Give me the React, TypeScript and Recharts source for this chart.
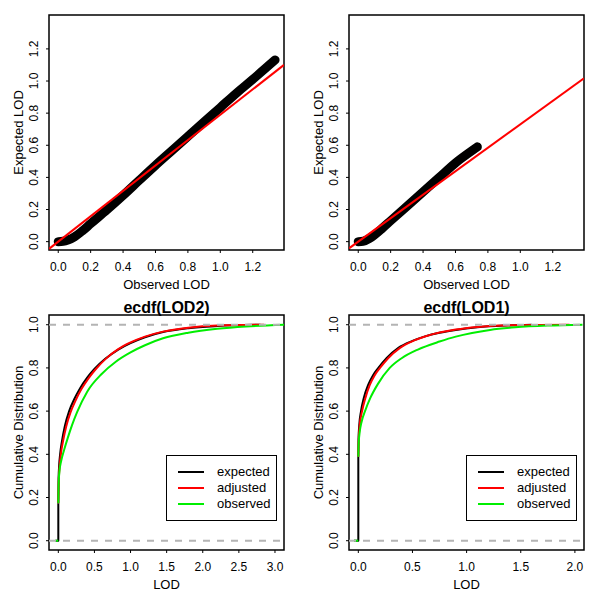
import React from 'react';
import { ComposedChart, Line, XAxis, YAxis, ReferenceLine, ReferenceArea, Legend, Label } from 'recharts';

type Pt = [number, number];

// ---------- Q-Q panels (Observed vs Expected LOD) ----------
const qqTicks = [0, 0.2, 0.4, 0.6, 0.8, 1.0, 1.2];

const lod2QQ: Pt[] = [
  [0, 0], [0.03, 0.002], [0.06, 0.01], [0.1, 0.03], [0.15, 0.068], [0.2, 0.112],
  [0.3, 0.198], [0.4, 0.288], [0.5, 0.382], [0.6, 0.475], [0.7, 0.565], [0.8, 0.655],
  [0.9, 0.745], [1.0, 0.835], [1.1, 0.925], [1.2, 1.01], [1.338, 1.131],
];
const lod2Slope = 0.79;

const lod1QQ: Pt[] = [
  [0, 0], [0.03, 0.002], [0.07, 0.02], [0.1, 0.042], [0.15, 0.085], [0.2, 0.13],
  [0.3, 0.22], [0.4, 0.31], [0.5, 0.4], [0.6, 0.49], [0.7, 0.565], [0.735, 0.59],
];
const lod1Slope = 0.73;

// ---------- ECDF panels ----------
const cdfTicks = [0, 0.2, 0.4, 0.6, 0.8, 1.0];
const lod2Ticks = [0, 0.5, 1.0, 1.5, 2.0, 2.5, 3.0];
const lod1Ticks = [0, 0.5, 1.0, 1.5, 2.0];

// point mass at LOD = 0 (height of the jump) and left end of the y=0 segment
const lod2Jump = 0.173;
const lod1Jump = 0.389;
const ecdfLeft = -0.04;

const lod2Expected: Pt[] = [
  [0, 0.173], [0.004, 0.29], [0.012, 0.35], [0.025, 0.4], [0.05, 0.46], [0.09, 0.53],
  [0.15, 0.6], [0.22, 0.655], [0.3, 0.705], [0.4, 0.755], [0.5, 0.795], [0.65, 0.842],
  [0.83, 0.885], [1.0, 0.915], [1.2, 0.942], [1.45, 0.966], [1.8, 0.984], [2.2, 0.994], [2.8, 1.0],
];
const lod2Adjusted: Pt[] = [
  [0, 0.173], [0.005, 0.27], [0.015, 0.33], [0.035, 0.4], [0.065, 0.46], [0.11, 0.53],
  [0.17, 0.595], [0.24, 0.65], [0.32, 0.702], [0.42, 0.753], [0.52, 0.795], [0.66, 0.843],
  [0.83, 0.887], [1.0, 0.918], [1.2, 0.945], [1.45, 0.968], [1.8, 0.986], [2.2, 0.996], [2.85, 1.0],
];
const lod2Observed: Pt[] = [
  [0, 0.173], [0.004, 0.26], [0.015, 0.32], [0.04, 0.37], [0.08, 0.42], [0.13, 0.475],
  [0.19, 0.535], [0.26, 0.595], [0.4, 0.69], [0.6, 0.772], [0.8, 0.83], [1.0, 0.872],
  [1.2, 0.905], [1.45, 0.937], [1.8, 0.963], [2.2, 0.981], [2.6, 0.992], [3.125, 1.0],
];

const lod1Expected: Pt[] = [
  [0, 0.389], [0.002, 0.47], [0.008, 0.53], [0.025, 0.6], [0.05, 0.66], [0.09, 0.72],
  [0.135, 0.765], [0.185, 0.8], [0.26, 0.845], [0.37, 0.893], [0.5, 0.925], [0.616, 0.946],
  [0.75, 0.963], [0.9, 0.976], [1.1, 0.988], [1.35, 0.996], [1.6, 1.0],
];
const lod1Adjusted: Pt[] = [
  [0, 0.389], [0.003, 0.46], [0.012, 0.53], [0.035, 0.6], [0.065, 0.66], [0.105, 0.72],
  [0.15, 0.765], [0.2, 0.8], [0.275, 0.845], [0.385, 0.893], [0.51, 0.926], [0.63, 0.948],
  [0.76, 0.965], [0.9, 0.978], [1.1, 0.99], [1.4, 0.998], [1.95, 1.0],
];
const lod1Observed: Pt[] = [
  [0, 0.389], [0.003, 0.45], [0.012, 0.5], [0.03, 0.55], [0.062, 0.6], [0.11, 0.66],
  [0.18, 0.725], [0.29, 0.8], [0.4, 0.845], [0.55, 0.885], [0.75, 0.922], [0.9, 0.945],
  [1.05, 0.962], [1.216, 0.976], [1.45, 0.988], [1.75, 0.996], [2.07, 1.0],
];

const seriesNames = ['expected', 'adjusted', 'observed'];
const seriesColors = ['#000000', '#ff0000', '#00ee00'];

// ---------- helpers ----------
const FONT = '"Liberation Sans", Arial, Helvetica, sans-serif';
const toRows = (pts: Pt[]) => pts.map(([x, y]) => ({ x, y }));
const fmt1 = (v: number) => v.toFixed(1);

const XTick = (props: any) => {
  const { x, y, payload } = props;
  return (
    <text x={x} y={y + 18} textAnchor="middle" fontSize={12} fontFamily={FONT} fill="#000">
      {fmt1(payload.value)}
    </text>
  );
};
const YTick = (props: any) => {
  const { x, y, payload } = props;
  const tx = x - 8;
  return (
    <text x={tx} y={y} transform={`rotate(-90 ${tx} ${y})`} textAnchor="middle" fontSize={12} fontFamily={FONT} fill="#000">
      {fmt1(payload.value)}
    </text>
  );
};

type Series = { key: string; color: string; width: number; points: Pt[]; curve: 'linear' | 'monotone'; round?: boolean };

const LegendBox = () => (
  <div
    style={{
      boxSizing: 'border-box', width: 111, height: 66, border: '1.5px solid #000', background: '#fff',
      position: 'relative', fontFamily: FONT, fontSize: 13, color: '#000',
    }}
  >
    {seriesNames.map((n, i) => (
      <div key={n} style={{ position: 'absolute', left: 0, top: 7.5 + i * 16, height: 16, display: 'flex', alignItems: 'center', lineHeight: '16px' }}>
        <div style={{ marginLeft: 11, width: 26, height: 0, borderTop: `2px solid ${seriesColors[i]}` }} />
        <span style={{ marginLeft: 13 }}>{n}</span>
      </div>
    ))}
  </div>
);

type PanelProps = {
  xDomain: [number, number];
  yDomain: [number, number];
  xTicks: number[];
  yTicks: number[];
  xTitle: string;
  yTitle: string;
  title?: string;
  series: Series[];
  hlines?: number[];
  legend?: boolean;
};

const Panel = ({ xDomain, yDomain, xTicks, yTicks, xTitle, yTitle, title, series, hlines, legend }: PanelProps) => (
  <ComposedChart width={300} height={300} margin={{ top: 15, right: 16, bottom: 20, left: 19 }}>
    <XAxis
      type="number" dataKey="x" domain={xDomain} ticks={xTicks} allowDataOverflow interval={0}
      axisLine={false} tickSize={3} tickMargin={0} tickLine={{ stroke: '#000' }} tick={<XTick />} height={30}
    >
      <Label
        content={(p: any) => {
          const vb = p.viewBox;
          return (
            <text x={vb.x + vb.width / 2} y={vb.y + 39} textAnchor="middle" fontSize={13} fontFamily={FONT} fill="#000">
              {xTitle}
            </text>
          );
        }}
      />
    </XAxis>
    <YAxis
      type="number" domain={yDomain} ticks={yTicks} allowDataOverflow interval={0}
      axisLine={false} tickSize={3} tickMargin={0} tickLine={{ stroke: '#000' }} tick={<YTick />} width={30}
    >
      <Label
        content={(p: any) => {
          const vb = p.viewBox;
          const tx = vb.x + 4;
          const ty = vb.y + vb.height / 2;
          return (
            <text x={tx} y={ty} transform={`rotate(-90 ${tx} ${ty})`} textAnchor="middle" fontSize={13} fontFamily={FONT} fill="#000">
              {yTitle}
            </text>
          );
        }}
      />
    </YAxis>
    {series.map((s) => (
      <Line
        key={s.key}
        data={toRows(s.points)}
        dataKey="y"
        name={s.key}
        type={s.curve}
        stroke={s.color}
        strokeWidth={s.width}
        strokeLinecap={s.round ? 'round' : 'butt'}
        strokeLinejoin="round"
        dot={false}
        activeDot={false}
        isAnimationActive={false}
        legendType="none"
      />
    ))}
    {(hlines || []).map((h) => (
      <ReferenceLine key={h} y={h} stroke="#b4b4b4" strokeWidth={2} strokeDasharray="7 7" />
    ))}
    <ReferenceArea
      x1={xDomain[0]} x2={xDomain[1]} y1={yDomain[0]} y2={yDomain[1]}
      fill="none" fillOpacity={0} stroke="#000" strokeWidth={1.5} ifOverflow="visible"
      label={
        title
          ? (p: any) => {
              const vb = p.viewBox;
              return (
                <text x={vb.x + vb.width / 2} y={vb.y - 2} textAnchor="middle" fontSize={16} fontWeight="bold" fontFamily={FONT} fill="#000">
                  {title}
                </text>
              );
            }
          : undefined
      }
    />
    {legend && (
      <Legend
        layout="vertical" align="center" verticalAlign="middle"
        wrapperStyle={{ left: 166, top: 155, width: 111, height: 66 }}
        content={() => <LegendBox />}
      />
    )}
  </ComposedChart>
);

const qqSeries = (pts: Pt[], slope: number, xDomain: [number, number]): Series[] => [
  { key: 'qq', color: '#000', width: 9, points: pts, curve: 'monotone', round: true },
  { key: 'fit', color: '#ff0000', width: 2, points: [[xDomain[0], slope * xDomain[0]], [xDomain[1], slope * xDomain[1]]], curve: 'linear' },
];

const ecdfSeries = (jump: number, e: Pt[], a: Pt[], o: Pt[]): Series[] => [
  { key: 'expected-jump', color: seriesColors[0], width: 2, points: [[ecdfLeft, 0], [0, 0], [0, jump]], curve: 'linear' },
  { key: seriesNames[0], color: seriesColors[0], width: 2, points: e, curve: 'monotone' },
  { key: seriesNames[1], color: seriesColors[1], width: 2, points: a, curve: 'monotone' },
  { key: 'observed-base', color: seriesColors[2], width: 2, points: [[ecdfLeft, 0], [0, 0]], curve: 'linear' },
  { key: seriesNames[2], color: seriesColors[2], width: 2, points: o, curve: 'monotone' },
];

const qqX: [number, number] = [-0.057, 1.393];
const qqY: [number, number] = [-0.052, 1.411];
const cdfY: [number, number] = [-0.043, 1.045];
const lod2X: [number, number] = [-0.129, 3.125];
const lod1X: [number, number] = [-0.086, 2.084];

export default function App() {
  const cell = (left: number, top: number): React.CSSProperties => ({ position: 'absolute', left, top, width: 300, height: 300 });
  return (
    <div style={{ position: 'absolute', left: 0, top: 0, width: 600, height: 600, background: '#fff' }}>
      <div style={cell(0, 0)}>
        <Panel xDomain={qqX} yDomain={qqY} xTicks={qqTicks} yTicks={qqTicks} xTitle="Observed LOD" yTitle="Expected LOD"
          series={qqSeries(lod2QQ, lod2Slope, qqX)} />
      </div>
      <div style={cell(300, 0)}>
        <Panel xDomain={qqX} yDomain={qqY} xTicks={qqTicks} yTicks={qqTicks} xTitle="Observed LOD" yTitle="Expected LOD"
          series={qqSeries(lod1QQ, lod1Slope, qqX)} />
      </div>
      <div style={cell(0, 300)}>
        <Panel xDomain={lod2X} yDomain={cdfY} xTicks={lod2Ticks} yTicks={cdfTicks} xTitle="LOD" yTitle="Cumulative Distribution"
          title="ecdf(LOD2)" series={ecdfSeries(lod2Jump, lod2Expected, lod2Adjusted, lod2Observed)} hlines={[0, 1]} legend />
      </div>
      <div style={cell(300, 300)}>
        <Panel xDomain={lod1X} yDomain={cdfY} xTicks={lod1Ticks} yTicks={cdfTicks} xTitle="LOD" yTitle="Cumulative Distribution"
          title="ecdf(LOD1)" series={ecdfSeries(lod1Jump, lod1Expected, lod1Adjusted, lod1Observed)} hlines={[0, 1]} legend />
      </div>
    </div>
  );
}
